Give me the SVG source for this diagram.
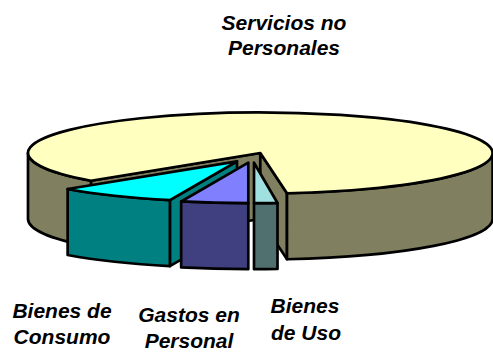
<svg xmlns="http://www.w3.org/2000/svg" width="493" height="352" viewBox="0 0 493 352">
<style>
.f{stroke:#000;stroke-width:2.7;stroke-linejoin:round}
.lbl{font-family:"Liberation Sans",Arial,sans-serif;font-size:21px;font-weight:bold;font-style:italic;fill:#000;text-anchor:middle}
.y1{fill:#FFFFC0}.y2{fill:#808060}
.c1{fill:#00FFFF}.c2{fill:#008080}
.p1{fill:#8080FF}.p2{fill:#404080}
.g1{fill:#A0E0E0}.g2{fill:#507070}
</style>
<rect width="493" height="352" fill="#fff"/>
<g id="servicios-no-personales">
<path class="f y2" d="M260.3,153 L90.95,180.72 L90.95,246.72 L260.3,219 Z"/>
<path class="f y2" d="M260.3,153 L287,193.23 L287,259.23 L260.3,219 Z"/>
<path class="f y2" d="M492.6,153 A232.3,40.5 0 0 1 287,193.23 L287,259.23 A232.3,40.5 0 0 0 492.6,219 Z"/>
<path class="f y2" d="M90.95,180.72 A232.3,40.5 0 0 1 28,153 L28,219 A232.3,40.5 0 0 0 90.95,246.72 Z"/>
<path class="f y1" d="M260.3,153 L90.95,180.72 A232.3,40.5 0 1 1 287,193.23 Z"/>
<text class="lbl" x="284" y="30">Servicios no</text>
<text class="lbl" x="284" y="55">Personales</text>
</g>
<g id="bienes-de-consumo">
<path class="f c2" d="M237,161.3 L169.86,200.07 L169.86,266.07 L237,227.3 Z"/>
<path class="f c2" d="M169.86,200.07 A232.3,40.5 0 0 1 67.65,189.02 L67.65,255.02 A232.3,40.5 0 0 0 169.86,266.07 Z"/>
<path class="f c1" d="M237,161.3 L169.86,200.07 A232.3,40.5 0 0 1 67.65,189.02 Z"/>
<text class="lbl" x="62" y="318">Bienes de</text>
<text class="lbl" x="62" y="344">Consumo</text>
</g>
<g id="gastos-en-personal">
<path class="f p2" d="M248.3,203.2 A232.3,40.5 0 0 1 181.16,201.47 L181.16,267.47 A232.3,40.5 0 0 0 248.3,269.2 Z"/>
<path class="f p1" d="M248.3,162.7 L248.3,203.2 A232.3,40.5 0 0 1 181.16,201.47 Z"/>
<text class="lbl" x="189" y="322">Gastos en</text>
<text class="lbl" x="189" y="348">Personal</text>
</g>
<g id="bienes-de-uso">
<path class="f g2" d="M277.5,203 A232.3,40.5 0 0 1 254,203.2 L254,269.2 A232.3,40.5 0 0 0 277.5,269 Z"/>
<path class="f g1" d="M254,162.7 L277.5,203 A232.3,40.5 0 0 1 254,203.2 Z"/>
<text class="lbl" x="305" y="313">Bienes</text>
<text class="lbl" x="306" y="340">de Uso</text>
</g>
</svg>
